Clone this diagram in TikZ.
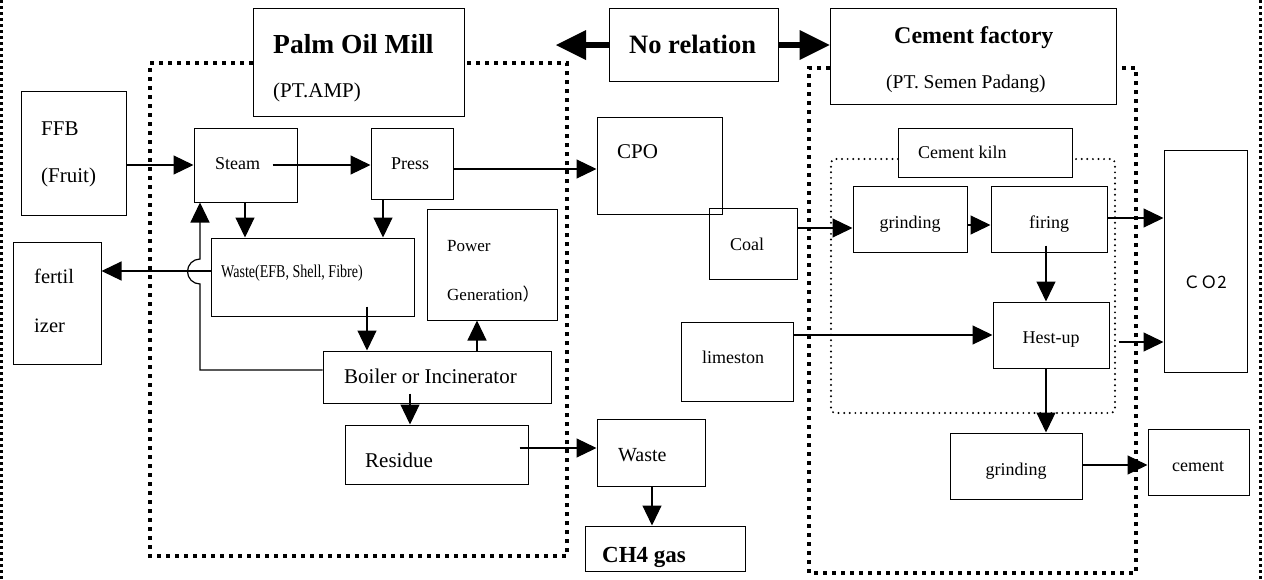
\documentclass[tikz,border=0pt]{standalone}
\usepackage{fontspec}
\usepackage{graphicx}
\setmainfont{Liberation Serif}
\setsansfont{Liberation Sans}
\newfontfamily\cjkfont{Noto Sans CJK SC}
\usetikzlibrary{arrows.meta,fit,calc}
\begin{document}
\begin{tikzpicture}[x=1pt,y=-1pt,
  box/.style={draw, line width=1pt, inner sep=0pt},
  txt/.style={inner sep=0pt, anchor=base west},
  txc/.style={inner sep=0pt, anchor=base},
  arr/.style={line width=1.2pt, -{Triangle[length=20pt,width=19pt]}},
  bigarr/.style={line width=6pt, -{Triangle[length=30pt,width=30pt,line width=0pt]}},
  thickdot/.style={line width=4pt, dash pattern=on 4pt off 5pt},
  outerdot/.style={line width=3pt, dash pattern=on 3pt off 3pt},
  thindot/.style={line width=2.2pt, dash pattern=on 0pt off 5.6pt, line cap=round, rounded corners=4pt},
  f17/.style={font=\fontsize{17}{17}\selectfont},
  f18/.style={font=\fontsize{18}{18}\selectfont},
  f19/.style={font=\fontsize{19.5}{19.5}\selectfont},
  f20/.style={font=\fontsize{20.5}{20.5}\selectfont},
  f21/.style={font=\fontsize{21}{21}\selectfont},
]
\useasboundingbox (0,0) rectangle (1264,579);

% outer border (left and right)
\draw[outerdot] (1.5,0) -- (1.5,579);
\draw[outerdot] (1260,0) -- (1260,579);

% group frames
\draw[thickdot] (253,63) -- (150,63) -- (150,556) -- (567,556) -- (567,63) -- (464,63);
\draw[thickdot] (830,68) -- (809,68) -- (809,573) -- (1136,573) -- (1136,68) -- (1116,68);
\draw[thindot] (898,159) -- (831,159) -- (831,413) -- (1115,413) -- (1115,159) -- (1072,159);

% boxes
\node[box, fit={(253,8) (464,116)}] (pom) {};
\node[box, fit={(609,8) (778,81)}] (nr) {};
\node[box, fit={(830,8) (1116,104)}] (cf) {};
\node[box, fit={(21,91) (126,215)}] (ffb) {};
\node[box, fit={(194,128) (297,202)}] (steam) {};
\node[box, fit={(371,128) (453,199)}] (press) {};
\node[box, fit={(597,117) (722,214)}] (cpo) {};
\node[box, fit={(709,208) (797,279)}] (coal) {};
\node[box, fit={(898,128) (1072,177)}] (kiln) {};
\node[box, fit={(853,186) (967,252)}] (gone) {};
\node[box, fit={(991,186) (1107,252)}] (firing) {};
\node[box, fit={(1164,150) (1247,372)}] (co2) {};
\node[box, fit={(993,302) (1109,368)}] (hest) {};
\node[box, fit={(681,322) (793,401)}] (lime) {};
\node[box, fit={(950,433) (1082,499)}] (gtwo) {};
\node[box, fit={(1148,429) (1249,495)}] (cement) {};
\node[box, fit={(13,242) (101,364)}] (fert) {};
\node[box, fit={(211,238) (414,316)}] (waste) {};
\node[box, fit={(427,209) (557,320)}] (power) {};
\node[box, fit={(323,351) (551,403)}] (boiler) {};
\node[box, fit={(345,425) (528,484)}] (residue) {};
\node[box, fit={(597,419) (705,486)}] (wastetwo) {};
\node[box, fit={(585,526) (745,571)}] (ch4) {};

% texts
\node[txt, font=\fontsize{27.5}{27.5}\selectfont\bfseries] (tpom) at (273,53) {Palm Oil Mill};
\node[txt, f21] (tamp) at (273,97) {(PT.AMP)};
\node[txt, font=\fontsize{26.5}{26.5}\selectfont\bfseries] (tnr) at (629,53) {No relation};
\node[txt, font=\fontsize{24}{24}\selectfont\bfseries] (tcf) at (894,43) {Cement factory};
\node[txt, f19] (tsp) at (886,88) {(PT. Semen Padang)};
\node[txt, f21] (tffb) at (41,135) {FFB};
\node[txt, f21] (tfruit) at (41,182) {(Fruit)};
\node[txt, f18] (tsteam) at (215,169) {Steam};
\node[txt, f18] (tpress) at (391,169) {Press};
\node[txt, f21] (tcpo) at (617,158) {CPO};
\node[txt, f18] (tcoal) at (730,250) {Coal};
\node[txt, f17] (tpower) at (447,251) {Power};
\node[txt, f17] (tgen) at (447,300) {Generation{\cjkfont ）}};
\node[txc, f18] (tlime) at (733,363) {limeston};
\node[txc, f18] (tgone) at (910,228) {grinding};
\node[txc, f18] (tfiring) at (1049,228) {firing};
\node[txc, f18] (thest) at (1051,343) {Hest-up};
\node[txt, f18] (tkiln) at (918,158) {Cement kiln};
\node[txc, inner sep=0pt, font=\fontsize{17}{17}\selectfont\cjkfont] (tco2) at (1205,288) {ＣＯ2};
\node[txt, f20] (tfert) at (34,283) {fertil};
\node[txt, f20] (tizer) at (34,332) {izer};
\node[txt, f18] (twaste) at (221,277) {\scalebox{0.78}[1]{Waste(EFB, Shell, Fibre)}};
\node[txt, f21] (tboiler) at (344,383) {Boiler or Incinerator};
\node[txt, f21] (tresidue) at (365,467) {Residue};
\node[txt, font=\fontsize{20}{20}\selectfont] (twastetwo) at (618,461) {Waste};
\node[txt, font=\fontsize{23}{23}\selectfont\bfseries] (tch4) at (602,562) {CH4 gas};
\node[txc, f18] (tgtwo) at (1016,475) {grinding};
\node[txt, f18] (tcement) at (1172,471) {cement};

% free ends
\coordinate (nrleft) at (556,45);
\coordinate (hopbot) at (200,370);

% connectors
\draw[bigarr] (nr.west |- 0,45) -- (nrleft);
\draw[bigarr] (nr.east |- 0,45) -- (cf.west |- 0,45);

\draw[arr] (ffb.east |- 0,165) -- (steam.west |- 0,165);
\draw[arr] ($(steam.east |- 0,165)+(-25,0)$) -- (press.west |- 0,165);
\draw[arr] (press.east |- 0,169) -- (cpo.west |- 0,169);
\draw[arr] (steam.south -| 245,0) -- (waste.north -| 245,0);
\draw[arr] (press.south -| 383,0) -- (waste.north -| 383,0);
\draw[arr] ($(waste.south -| 367,0)+(0,-10)$) -- (boiler.north -| 367,0);
\draw[arr] (boiler.north -| 477,0) -- (power.south -| 477,0);
\draw[arr] ($(boiler.south -| 410,0)+(0,-10)$) -- (residue.north -| 410,0);
\draw[arr] ($(residue.east |- 0,448)+(-9,0)$) -- (wastetwo.west |- 0,448);
\draw[arr] (wastetwo.south -| 652,0) -- (ch4.north -| 652,0);
\draw[arr] (waste.west |- 0,271) -- (fert.east |- 0,271);
\draw[arr] (boiler.west |- hopbot) -- (hopbot) -- (200,284)
   arc[start angle=270, end angle=90, radius=12.5pt] -- (steam.south -| hopbot);

\draw[arr] (coal.east |- 0,228) -- (gone.west |- 0,228);
\draw[arr] (gone.east |- 0,225) -- (firing.west |- 0,225);
\draw[arr] (firing.east |- 0,218) -- (co2.west |- 0,218);
\draw[arr] ($(firing.south -| 1046,0)+(0,-7)$) -- (hest.north -| 1046,0);
\draw[arr] (lime.east |- 0,335) -- (hest.west |- 0,335);
\draw[arr] ($(hest.east |- 0,342)+(9,0)$) -- (co2.west |- 0,342);
\draw[arr] (hest.south -| 1046,0) -- (gtwo.north -| 1046,0);
\draw[arr] (gtwo.east |- 0,465) -- (cement.west |- 0,465);
\end{tikzpicture}
\end{document}
